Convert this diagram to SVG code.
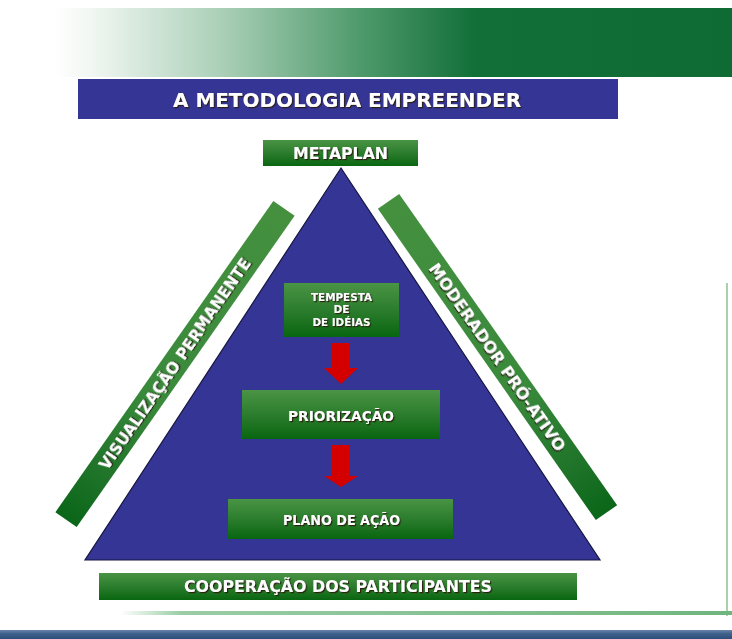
<svg xmlns="http://www.w3.org/2000/svg" width="732" height="639" viewBox="0 0 732 639">
<defs>
<linearGradient id="topband" x1="0" y1="0" x2="1" y2="0">
<stop offset="0" stop-color="#ffffff"/>
<stop offset="0.05" stop-color="#f2f7f3"/>
<stop offset="0.25" stop-color="#a9cfb6"/>
<stop offset="0.45" stop-color="#4f9a6c"/>
<stop offset="0.62" stop-color="#126f38"/>
<stop offset="1" stop-color="#0d6b33"/>
</linearGradient>
<linearGradient id="box" x1="0" y1="0" x2="0" y2="1">
<stop offset="0" stop-color="#4a9444"/>
<stop offset="0.45" stop-color="#2f7f30"/>
<stop offset="1" stop-color="#096610"/>
</linearGradient>
<linearGradient id="bandL" x1="0" y1="0" x2="1" y2="0">
<stop offset="0" stop-color="#0a6618"/>
<stop offset="0.15" stop-color="#1f7429"/>
<stop offset="0.4" stop-color="#3a8a3c"/>
<stop offset="1" stop-color="#44903f"/>
</linearGradient>
<linearGradient id="bandR" x1="0" y1="0" x2="1" y2="0">
<stop offset="0" stop-color="#44903f"/>
<stop offset="0.6" stop-color="#3a8a3c"/>
<stop offset="0.85" stop-color="#1f7429"/>
<stop offset="1" stop-color="#0a6618"/>
</linearGradient>
<linearGradient id="hline" x1="0" y1="0" x2="1" y2="0">
<stop offset="0" stop-color="#8fc79b" stop-opacity="0"/>
<stop offset="0.1" stop-color="#8fc79b" stop-opacity="0.9"/>
<stop offset="1" stop-color="#6fb57e"/>
</linearGradient>
<linearGradient id="foot" x1="0" y1="0" x2="0" y2="1">
<stop offset="0" stop-color="#6a86aa"/>
<stop offset="0.4" stop-color="#40618c"/>
<stop offset="1" stop-color="#2e4f7a"/>
</linearGradient>
<filter id="sh" x="-10%" y="-30%" width="120%" height="160%">
<feDropShadow dx="1.2" dy="1.2" stdDeviation="0.3" flood-color="#2b1d08" flood-opacity="0.95"/>
</filter>
</defs>
<style>
.lbl{font-family:"DejaVu Sans","Liberation Sans",Arial,sans-serif;font-weight:bold;fill:#ffffff;text-anchor:middle;filter:url(#sh)}
.gbox{fill:url(#box)}
.arrow{fill:#d40000}
</style>
<rect width="732" height="639" fill="#ffffff"/>
<rect x="55" y="8" width="677" height="69" fill="url(#topband)"/>
<rect x="0" y="630" width="732" height="9" fill="url(#foot)"/>
<line x1="727" y1="283" x2="727" y2="616" stroke="#a6d3ae" stroke-width="2"/>
<rect x="120" y="611" width="612" height="4" fill="url(#hline)"/>

<g id="title">
<rect x="78" y="79" width="540" height="40" fill="#353596"/>
<text class="lbl" x="347" y="107" font-size="19" textLength="348" lengthAdjust="spacingAndGlyphs">A METODOLOGIA EMPREENDER</text>
</g>

<g id="triangle">
<polygon points="341,168 600,560 85,560" fill="#353596" stroke="#15153f" stroke-width="1.2"/>
</g>

<g id="metaplan">
<rect class="gbox" x="263" y="140" width="155" height="26"/>
<text class="lbl" x="340.5" y="159" font-size="16" textLength="95" lengthAdjust="spacingAndGlyphs">METAPLAN</text>
</g>

<g id="visualizacao" transform="translate(175,364) rotate(-55)">
<rect x="-190" y="-13" width="380" height="26" fill="url(#bandL)"/>
<text class="lbl" x="0" y="5.5" font-size="15" textLength="253" lengthAdjust="spacingAndGlyphs">VISUALIZAÇÃO PERMANENTE</text>
</g>

<g id="moderador" transform="translate(497.5,357) rotate(55)">
<rect x="-190" y="-13" width="380" height="26" fill="url(#bandR)"/>
<text class="lbl" x="0" y="5.5" font-size="15" textLength="225" lengthAdjust="spacingAndGlyphs">MODERADOR PRÓ-ATIVO</text>
</g>

<g id="tempesta">
<rect class="gbox" x="284" y="283" width="115" height="54"/>
<text class="lbl" x="341.5" y="301" font-size="11" textLength="61" lengthAdjust="spacingAndGlyphs">TEMPESTA</text>
<text class="lbl" x="341.5" y="313" font-size="11" textLength="16" lengthAdjust="spacingAndGlyphs">DE</text>
<text class="lbl" x="341.5" y="326" font-size="11" textLength="58" lengthAdjust="spacingAndGlyphs">DE IDÉIAS</text>
</g>

<g id="priorizacao">
<rect class="gbox" x="242" y="390" width="198" height="49"/>
<text class="lbl" x="341" y="421" font-size="14.5" textLength="106" lengthAdjust="spacingAndGlyphs">PRIORIZAÇÃO</text>
</g>

<g id="plano">
<rect class="gbox" x="228" y="499" width="225" height="40"/>
<text class="lbl" x="341.5" y="525" font-size="14.5" textLength="117" lengthAdjust="spacingAndGlyphs">PLANO DE AÇÃO</text>
</g>

<g id="cooperacao">
<rect class="gbox" x="99" y="573" width="478" height="27"/>
<text class="lbl" x="338" y="592" font-size="15" textLength="308" lengthAdjust="spacingAndGlyphs">COOPERAÇÃO DOS PARTICIPANTES</text>
</g>

<g id="connectors">
<polygon class="arrow" points="332,343 350,343 350,368 358,368 341,384 324,368 332,368"/>
<polygon class="arrow" points="332,445 350,445 350,476 358,476 341,487 324,476 332,476"/>
</g>
</svg>
